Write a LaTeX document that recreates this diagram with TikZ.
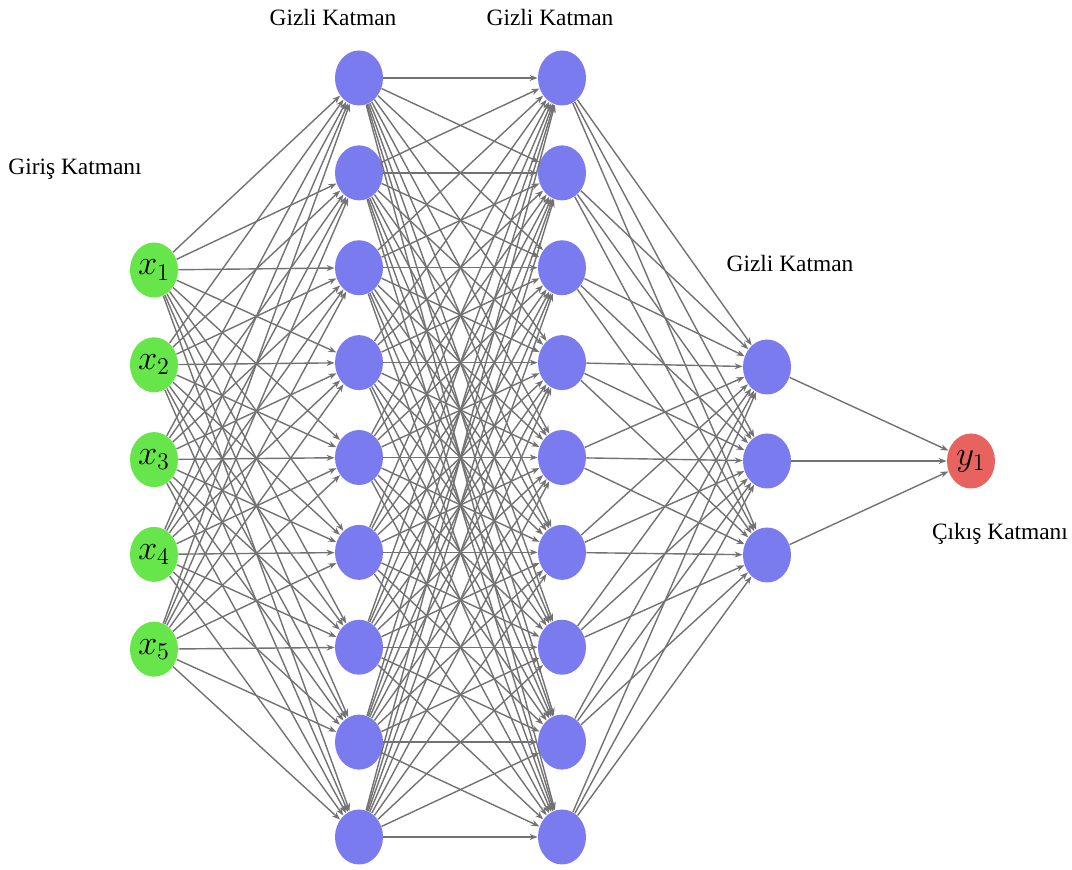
\documentclass[tikz,border=0pt]{standalone}
\usepackage{fontspec}
\setmainfont{Liberation Serif}
\usetikzlibrary{shapes.geometric,arrows.meta}
\definecolor{inputgreen}{HTML}{66E64A}
\definecolor{hiddenblue}{HTML}{7B7BF0}
\definecolor{outputred}{HTML}{E8625F}
\definecolor{wiregray}{HTML}{727272}
\begin{document}
\begin{tikzpicture}[x=0.5pt,y=-0.5pt,
  neuron/.style={ellipse,minimum width=24pt,minimum height=27.5pt,inner sep=0pt,
    font=\fontsize{17.28}{18}\selectfont},
  innode/.style={neuron,fill=inputgreen},
  hidnode/.style={neuron,fill=hiddenblue},
  outnode/.style={neuron,fill=outputred},
  wire/.style={draw=wiregray,line width=0.7pt,-{Stealth[length=4pt,width=3pt]}},
  layertitle/.style={anchor=base,inner sep=0pt,font=\fontsize{11.7}{14}\selectfont}]
\useasboundingbox (0,0) rectangle (1072,870);

% input layer
\foreach \i in {1,...,5}
  \node[innode] (x\i) at (154,{270+94.8*(\i-1)}) {$x_{\i}$};
% first and second hidden layers
\foreach \i in {1,...,9} {
  \node[hidnode] (a\i) at (359,{78+94.875*(\i-1)}) {};
  \node[hidnode] (b\i) at (562,{78+94.875*(\i-1)}) {};
}
% third hidden layer
\foreach \i in {1,...,3}
  \node[hidnode] (c\i) at (767,{367+94*(\i-1)}) {};
% output layer
\node[outnode] (y1) at (971,461) {$y_1$};

% fully connected weights
\foreach \i in {1,...,5}
  \foreach \j in {1,...,9}
    \draw[wire] (x\i) -- (a\j);
\foreach \i in {1,...,9}
  \foreach \j in {1,...,9}
    \draw[wire] (a\i) -- (b\j);
\foreach \i in {1,...,9}
  \foreach \j in {1,...,3}
    \draw[wire] (b\i) -- (c\j);
\foreach \i in {1,...,3}
  \draw[wire] (c\i) -- (y1);

% layer titles
\node[layertitle] (tin) at (75,175) {Giriş Katmanı};
\node[layertitle] (th1) at (333,26) {Gizli Katman};
\node[layertitle] (th2) at (550,26) {Gizli Katman};
\node[layertitle] (th3) at (790,272) {Gizli Katman};
\node[layertitle] (tout) at (1000,540) {Çıkış Katmanı};
\end{tikzpicture}
\end{document}
